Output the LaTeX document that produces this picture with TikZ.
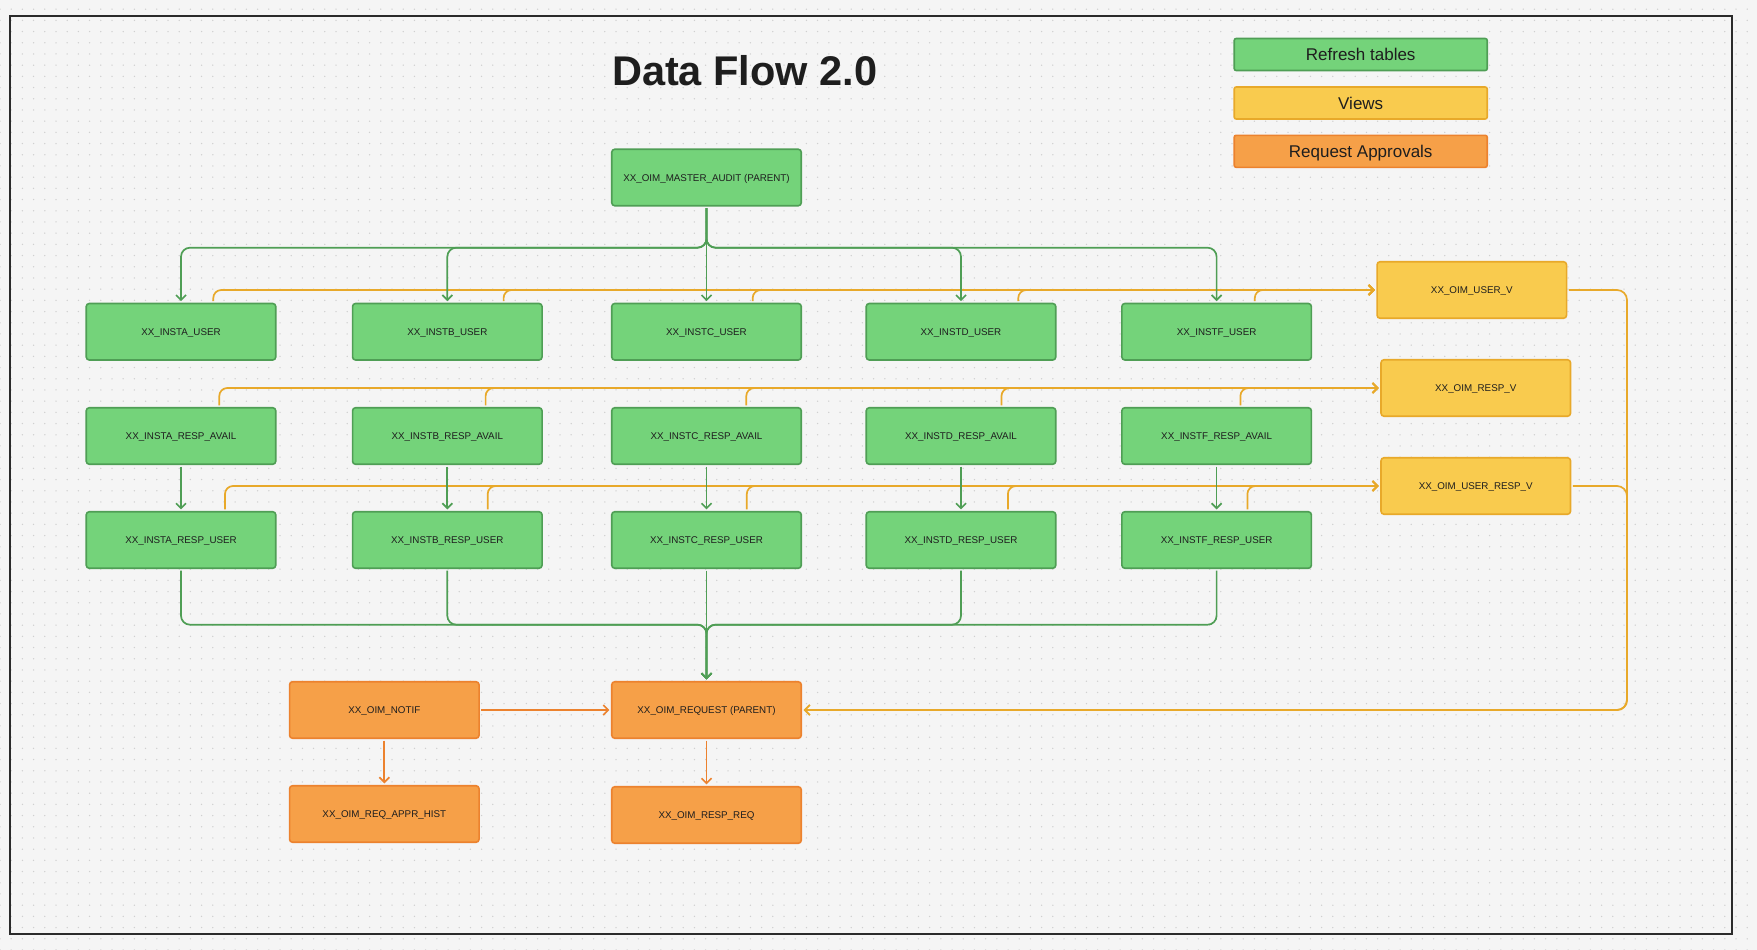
\documentclass[tikz,border=0pt]{standalone}
\usepackage{fontspec}
\setmainfont{Liberation Sans}
\usetikzlibrary{arrows.meta,patterns}
\definecolor{bgc}{HTML}{F5F5F5}
\definecolor{dotc}{HTML}{D0D0D0}
\definecolor{gfill}{HTML}{74D37A}
\definecolor{gdraw}{HTML}{4F9E55}
\definecolor{yfill}{HTML}{F9CB4E}
\definecolor{ydraw}{HTML}{E8A92A}
\definecolor{ofill}{HTML}{F6A048}
\definecolor{odraw}{HTML}{EC822E}
\definecolor{txt}{HTML}{1E1E1E}
\definecolor{framec}{HTML}{2B2B2B}
\pgfdeclarepatternformonly{dotgrid}{\pgfpoint{-1pt}{-1pt}}{\pgfpoint{1pt}{1pt}}{\pgfpoint{11.2pt}{11.2pt}}{\pgfpathcircle{\pgfpointorigin}{0.75pt}\pgfusepath{fill}}
\begin{document}
\begin{tikzpicture}[x=1pt,y=-1pt,
 box/.style={rectangle, rounded corners=3pt, line width=1.6pt, minimum width=189.5pt, minimum height=56.5pt, inner sep=0pt, text height=7pt, text depth=0pt, text=txt, font=\fontsize{9.8}{12}\selectfont},
 gbox/.style={box, fill=gfill, draw=gdraw},
 ybox/.style={box, fill=yfill, draw=ydraw},
 obox/.style={box, fill=ofill, draw=odraw},
 legend/.style={rectangle, rounded corners=2pt, line width=1.6pt, minimum width=253pt, minimum height=32pt, inner sep=0pt, text height=12.2pt, text depth=0pt, text=txt, font=\fontsize{17}{20}\selectfont},
 conn/.style={line width=1.7pt, rounded corners=9pt, shorten >=1.5pt, shorten <=1.5pt, -{Straight Barb[length=5pt,width=10pt]}},
 gline/.style={conn, draw=gdraw},
 yline/.style={conn, draw=ydraw, rounded corners=8pt},
 oline/.style={conn, draw=odraw},
]
\useasboundingbox (0,0) rectangle (1757,950);
\fill[bgc] (0,0) rectangle (1757,950);
\fill[pattern=dotgrid, pattern color=dotc] (0,0) rectangle (1757,950);
\draw[framec, line width=2pt] (10,16) rectangle (1732,934);

% title and legend
\node[font=\bfseries\fontsize{41.5}{48}\selectfont, text=txt, anchor=base, inner sep=0pt] (title) at (744.7,85) {Data Flow 2.0};
\node[legend, fill=gfill, draw=gdraw] (lg1) at (1360.7,54.5) {Refresh tables};
\node[legend, fill=yfill, draw=ydraw] (lg2) at (1360.7,103) {Views};
\node[legend, fill=ofill, draw=odraw] (lg3) at (1360.7,151.3) {Request Approvals};

% green tables
\node[gbox] (ma) at (706.5,177.5) {XX\_OIM\_MASTER\_AUDIT (PARENT)};

\node[gbox] (au) at (181,331.75) {XX\_INSTA\_USER};
\node[gbox] (bu) at (447.3,331.75) {XX\_INSTB\_USER};
\node[gbox] (cu) at (706.5,331.75) {XX\_INSTC\_USER};
\node[gbox] (du) at (961,331.75) {XX\_INSTD\_USER};
\node[gbox] (fu) at (1216.6,331.75) {XX\_INSTF\_USER};

\node[gbox] (ara) at (181,436) {XX\_INSTA\_RESP\_AVAIL};
\node[gbox] (bra) at (447.3,436) {XX\_INSTB\_RESP\_AVAIL};
\node[gbox] (cra) at (706.5,436) {XX\_INSTC\_RESP\_AVAIL};
\node[gbox] (dra) at (961,436) {XX\_INSTD\_RESP\_AVAIL};
\node[gbox] (fra) at (1216.6,436) {XX\_INSTF\_RESP\_AVAIL};

\node[gbox] (aru) at (181,540) {XX\_INSTA\_RESP\_USER};
\node[gbox] (bru) at (447.3,540) {XX\_INSTB\_RESP\_USER};
\node[gbox] (cru) at (706.5,540) {XX\_INSTC\_RESP\_USER};
\node[gbox] (dru) at (961,540) {XX\_INSTD\_RESP\_USER};
\node[gbox] (fru) at (1216.6,540) {XX\_INSTF\_RESP\_USER};

% views
\node[ybox] (uv) at (1471.8,290) {XX\_OIM\_USER\_V};
\node[ybox] (rv) at (1475.75,388) {XX\_OIM\_RESP\_V};
\node[ybox] (urv) at (1475.75,486) {XX\_OIM\_USER\_RESP\_V};

% request approvals
\node[obox] (notif) at (384.3,710) {XX\_OIM\_NOTIF};
\node[obox] (req) at (706.5,710) {XX\_OIM\_REQUEST (PARENT)};
\node[obox] (hist) at (384.3,814) {XX\_OIM\_REQ\_APPR\_HIST};
\node[obox] (rr) at (706.5,815) {XX\_OIM\_RESP\_REQ};

% yellow feeds into views
\foreach \n/\o in {au/32.3, bu/56.3, cu/46.2, du/57.3, fu/38.2}
  \draw[yline] ([xshift=\o pt]\n.north) |- (uv.west);
\foreach \n/\o in {ara/38.3, bra/38.3, cra/39.8, dra/40.5, fra/23.8}
  \draw[yline] ([xshift=\o pt]\n.north) |- (rv.west);
\foreach \n/\o in {aru/44, bru/40.4, cru/40.3, dru/46.9, fru/30.8}
  \draw[yline] ([xshift=\o pt]\n.north) |- (urv.west);

% green split from master
\coordinate (split) at (706.5,247.7);
\foreach \n in {au,bu,du,fu}
  \draw[gline] (ma.south) -- (split) -| (\n.north);
\draw[gline] (ma.south) -- (cu.north);

% green avail -> resp user
\foreach \a/\b in {ara/aru, bra/bru, cra/cru, dra/dru, fra/fru}
  \draw[gline] (\a.south) -- (\b.north);

% green merge to request
\coordinate (merge) at (706.5,624.7);
\foreach \n in {aru,bru,dru,fru}
  \draw[gline] (\n.south) |- (merge) -- (req.north);
\draw[gline] (cru.south) -- (req.north);

% yellow views -> request
\coordinate (yturn) at (1627,710);
\draw[yline, rounded corners=10pt] (uv.east) -| (yturn) -- (req.east);
\draw[yline, rounded corners=10pt] (urv.east) -| (yturn) -- (req.east);

% orange
\draw[oline] (notif.east) -- (req.west);
\draw[oline] (notif.south) -- (hist.north);
\draw[oline] (req.south) -- (rr.north);
\end{tikzpicture}
\end{document}
